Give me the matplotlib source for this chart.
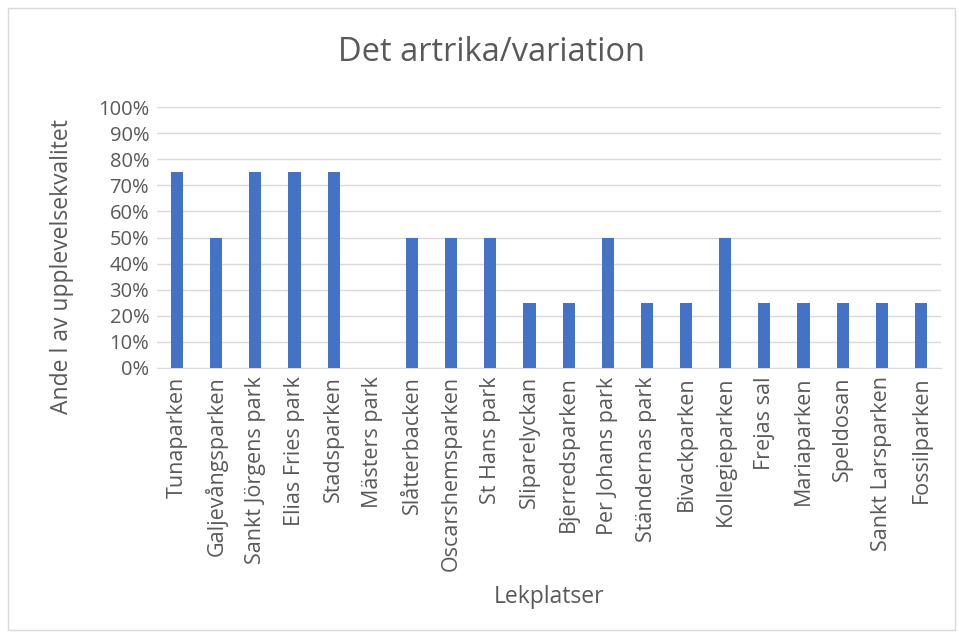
import matplotlib.pyplot as plt
from matplotlib.patches import Rectangle
from matplotlib.ticker import PercentFormatter, MultipleLocator

plt.rcParams['font.family'] = ['Open Sans', 'DejaVu Sans']

# Data
parks = ['Tunaparken', 'Galjevångsparken', 'Sankt Jörgens park', 'Elias Fries park',
         'Stadsparken', 'Mästers park', 'Slåtterbacken', 'Oscarshemsparken',
         'St Hans park', 'Sliparelyckan', 'Bjerredsparken', 'Per Johans park',
         'Ständernas park', 'Bivackparken', 'Kollegieparken', 'Frejas sal',
         'Mariaparken', 'Speldosan', 'Sankt Larsparken', 'Fossilparken']
values = [0.75, 0.50, 0.75, 0.75, 0.75, 0.0, 0.50, 0.50, 0.50, 0.25,
          0.25, 0.50, 0.25, 0.25, 0.50, 0.25, 0.25, 0.25, 0.25, 0.25]

text_color = '#595959'

fig = plt.figure(figsize=(9.59, 6.37), dpi=100)
ax = fig.add_axes([0.1642, 0.4223, 0.8166, 0.4097])

ax.bar(range(len(parks)), values, width=0.31, color='#4472C4', zorder=3)

ax.set_xlim(-0.5, len(parks) - 0.5)
ax.set_ylim(0, 1)
ax.yaxis.set_major_locator(MultipleLocator(0.1))
ax.yaxis.set_major_formatter(PercentFormatter(1.0, decimals=0))
ax.grid(axis='y', color='#d9d9d9', linewidth=1, zorder=0)

ax.set_xticks(range(len(parks)))
ax.set_xticklabels(parks, rotation=90, fontsize=15.5, color=text_color)
ax.tick_params(axis='y', labelsize=14.5, labelcolor=text_color, length=0, pad=6)
ax.tick_params(axis='x', length=0, pad=6)

for side in ['top', 'right', 'left']:
    ax.spines[side].set_visible(False)
ax.spines['bottom'].set_color('#d9d9d9')

fig.text(0.0647, 0.582, 'Ande l av upplevelsekvalitet', fontsize=16.5, color=text_color,
         ha='center', va='center', rotation=90)
fig.text(0.573, 0.063, 'Lekplatser', fontsize=16.5, color=text_color,
         ha='center', va='center')
fig.text(0.512, 0.918, 'Det artrika/variation', fontsize=23.5, color=text_color,
         ha='center', va='center')

# chart border
fig.patches.append(Rectangle((0.008, 0.011), 0.988, 0.977, transform=fig.transFigure,
                             fill=False, edgecolor='#d9d9d9', linewidth=1))

plt.savefig('out.png', dpi=100)
